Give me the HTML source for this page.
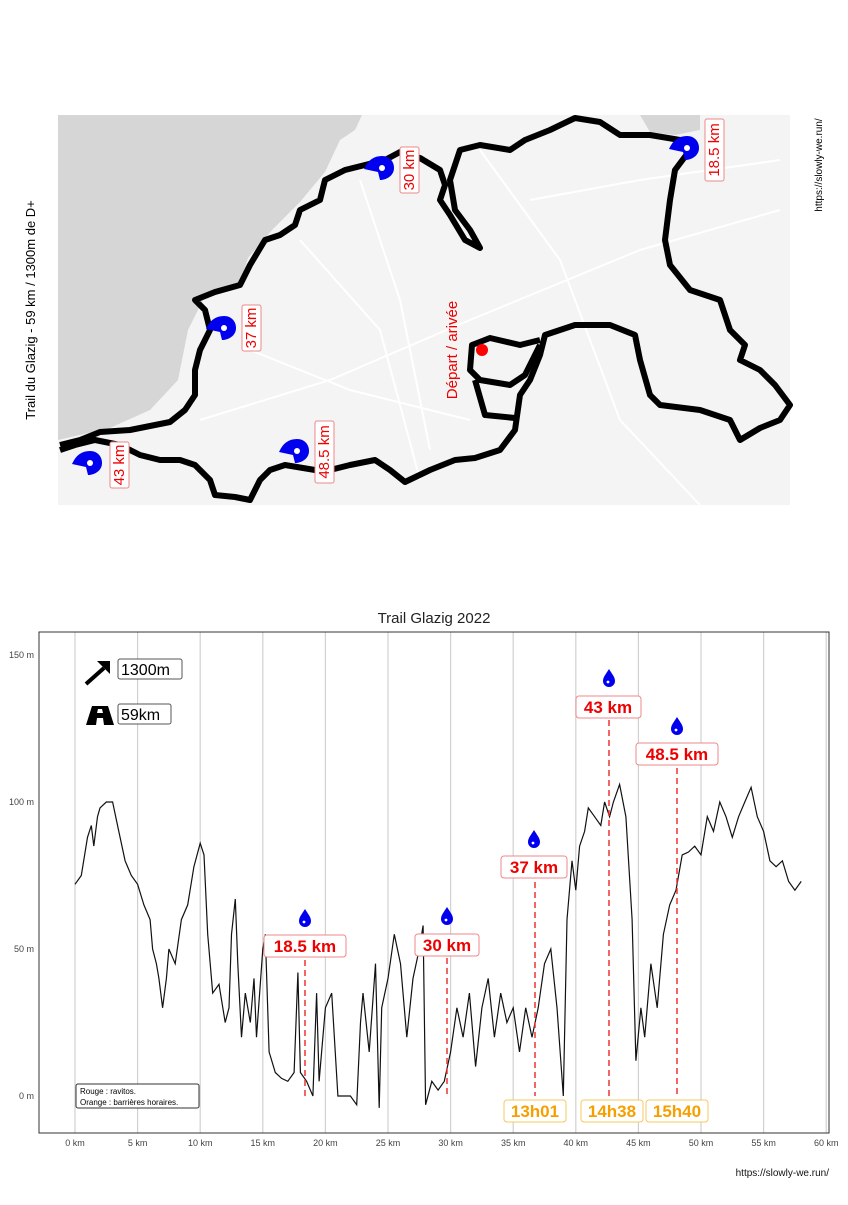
<!DOCTYPE html>
<html><head><meta charset="utf-8"><style>
body{margin:0;background:#fff;font-family:"Liberation Sans",sans-serif;}
</style></head><body>
<svg width="848" height="1200" xmlns="http://www.w3.org/2000/svg" font-family="Liberation Sans, sans-serif">
<defs>
<g id="pin"><path d="M0,0 L-14,-3 C-10,-12 -4,-16 4,-16 C12,-16 16,-10 16,-4 C16,4 8,8 2,8 Z" fill="#0000ee"/><circle cx="4" cy="-4" r="3" fill="#fff"/></g>
<g id="drop"><path d="M0,-9 C3,-4 6,-1 6,3 A6,6 0 0 1 -6,3 C-6,-1 -3,-4 0,-9 Z" fill="#0000ee"/><circle cx="-1" cy="4" r="1.4" fill="#fff"/></g>
</defs>
<!-- MAP -->
<rect x="58" y="115" width="732" height="390" fill="#f4f4f4"/>
<path d="M58,115 L362,115 L355,130 L340,140 L325,172 L300,202 L272,230 L248,258 L238,288 L205,296 L188,330 L178,380 L150,410 L110,428 L58,440 Z" fill="#d6d6d6"/>
<path d="M640,115 L700,115 L700,130 L675,135 L650,132 Z" fill="#d6d6d6"/>
<g stroke="#fff" stroke-width="2" fill="none">
<path d="M300,240 L380,330 L420,480"/><path d="M200,420 L330,380 L470,320 L640,250 L780,210"/><path d="M360,180 L400,300 L430,450"/><path d="M480,150 L560,260 L620,420 L700,505"/><path d="M250,350 L350,390 L470,420"/><path d="M530,200 L640,180 L780,160"/>
</g>
<path fill="none" stroke="#000" stroke-width="6" stroke-linejoin="round" d="M60,445 L80,440 L100,432 L130,430 L155,425 L170,422 L185,410 L195,395 L195,370 L200,350 L210,330 L205,310 L195,300 L215,292 L240,285 L250,265 L265,240 L280,235 L295,225 L300,210 L320,200 L325,180 L345,170 L365,165 L385,160 L400,152 L420,158 L440,170 L445,185 L440,200 L450,215 L465,240 L480,248 L470,230 L455,210 L450,180 L460,150 L480,145 L510,150 L525,140 L550,130 L575,118 L600,122 L620,135 L650,135 L680,140 L690,150 L675,170 L670,200 L665,240 L670,265 L690,290 L720,300 L730,330 L745,345 L740,360 L760,370 L775,385 L790,405 L780,420 L760,428 L740,440 L730,420 L700,410 L660,405 L650,395 L640,360 L635,335 L610,325 L575,325 L545,335 L540,355 L530,380 L520,395 L515,430 L500,450 L475,458 L455,460 L430,470 L405,482 L390,470 L375,460 L350,465 L330,470 L315,470 L285,465 L270,470 L260,480 L250,500 L235,497 L215,495 L210,480 L195,465 L180,460 L160,460 L140,455 L120,445 L95,440 L75,445 L60,450"/>
<path fill="none" stroke="#000" stroke-width="6" stroke-linejoin="round" d="M540,340 L520,345 L490,338 L472,345 L470,370 L480,380 L510,385 L525,375 L540,345 M475,380 L485,415 L515,418"/>
<circle cx="482" cy="350" r="6" fill="#f00"/>
<use href="#pin" x="378" y="172"/><use href="#pin" x="683" y="152"/><use href="#pin" x="220" y="332"/><use href="#pin" x="86" y="467"/><use href="#pin" x="293" y="455"/>
<g fill="#e00" font-size="15">
<g transform="translate(414,170) rotate(-90)"><rect x="-23" y="-14" width="46" height="19" fill="#fff" stroke="#e88" rx="2"/><text text-anchor="middle">30 km</text></g>
<g transform="translate(719,150) rotate(-90)"><rect x="-31" y="-14" width="62" height="19" fill="#fff" stroke="#e88" rx="2"/><text text-anchor="middle">18.5 km</text></g>
<g transform="translate(256,328) rotate(-90)"><rect x="-23" y="-14" width="46" height="19" fill="#fff" stroke="#e88" rx="2"/><text text-anchor="middle">37 km</text></g>
<g transform="translate(124,465) rotate(-90)"><rect x="-23" y="-14" width="46" height="19" fill="#fff" stroke="#e88" rx="2"/><text text-anchor="middle">43 km</text></g>
<g transform="translate(329,452) rotate(-90)"><rect x="-31" y="-14" width="62" height="19" fill="#fff" stroke="#e88" rx="2"/><text text-anchor="middle">48.5 km</text></g>
<text transform="translate(457,350) rotate(-90)" text-anchor="middle">Départ / arivée</text>
</g>
<text transform="translate(35,310) rotate(-90)" text-anchor="middle" font-size="13" fill="#000">Trail du Glazig - 59 km / 1300m de D+</text>
<text transform="translate(822,165) rotate(-90)" text-anchor="middle" font-size="10" fill="#000">https://slowly-we.run/</text>
<!-- CHART -->
<text x="434" y="623" text-anchor="middle" font-size="15" fill="#222">Trail Glazig 2022</text>
<g stroke="#d0d0d0" stroke-width="1.2" id="grid"></g>
<rect x="39" y="632" width="790" height="501" fill="none" stroke="#333" stroke-width="1"/>
<g font-size="9" fill="#444" text-anchor="end">
<text x="34" y="658">150 m</text><text x="34" y="805">100 m</text><text x="34" y="952">50 m</text><text x="34" y="1099">0 m</text>
</g>
<g font-size="9" fill="#444" text-anchor="middle" id="xl"></g>
<polyline id="prof" fill="none" stroke="#111" stroke-width="1.2" points=""/>
<g stroke="#e33" stroke-width="1.5" stroke-dasharray="6,4">
<line x1="305" y1="960" x2="305" y2="1096"/><line x1="447" y1="958" x2="447" y2="1096"/><line x1="535" y1="882" x2="535" y2="1096"/><line x1="609" y1="720" x2="609" y2="1096"/><line x1="677" y1="768" x2="677" y2="1096"/>
</g>
<use href="#drop" x="305" y="918"/><use href="#drop" x="447" y="916"/><use href="#drop" x="534" y="839"/><use href="#drop" x="609" y="678"/><use href="#drop" x="677" y="726"/>
<g font-size="17" font-weight="bold" fill="#e00" text-anchor="middle">
<rect x="264" y="935" width="82" height="22" fill="#fff" stroke="#e88" rx="3"/><text x="305" y="952">18.5 km</text>
<rect x="415" y="934" width="64" height="22" fill="#fff" stroke="#e88" rx="3"/><text x="447" y="951">30 km</text>
<rect x="501" y="856" width="66" height="22" fill="#fff" stroke="#e88" rx="3"/><text x="534" y="873">37 km</text>
<rect x="576" y="696" width="65" height="22" fill="#fff" stroke="#e88" rx="3"/><text x="608" y="713">43 km</text>
<rect x="636" y="743" width="82" height="22" fill="#fff" stroke="#e88" rx="3"/><text x="677" y="760">48.5 km</text>
</g>
<g font-size="17" font-weight="bold" fill="#f5a000" text-anchor="middle">
<rect x="504" y="1100" width="62" height="22" fill="#fff" stroke="#f8c860" rx="3"/><text x="535" y="1117">13h01</text>
<rect x="581" y="1100" width="62" height="22" fill="#fff" stroke="#f8c860" rx="3"/><text x="612" y="1117">14h38</text>
<rect x="646" y="1100" width="62" height="22" fill="#fff" stroke="#f8c860" rx="3"/><text x="677" y="1117">15h40</text>
</g>
<path d="M86,684 L104,668" stroke="#000" stroke-width="4"/><path d="M97,661 L110,661 L110,674 Z" fill="#000"/>
<rect x="118" y="659" width="64" height="20" fill="#fff" stroke="#555" rx="2"/><text x="121" y="675" font-size="16">1300m</text>
<path d="M86,725 L92,706 L108,706 L114,725 L104,725 L103,718 L97,718 L96,725 Z M97,713 L103,713 L102,709 L98,709 Z" fill="#000"/>
<rect x="118" y="704" width="53" height="20" fill="#fff" stroke="#555" rx="2"/><text x="121" y="720" font-size="16">59km</text>
<rect x="76" y="1084" width="123" height="24" fill="#fff" stroke="#333" rx="2"/>
<text x="80" y="1094" font-size="8">Rouge : ravitos.</text><text x="80" y="1105" font-size="8">Orange : barrières horaires.</text>
<text x="829" y="1176" text-anchor="end" font-size="10" fill="#111">https://slowly-we.run/</text>
</svg>
<script>
var X=k=>75+k*12.52, Y=m=>1096-m*2.94;
var g=document.getElementById('grid'),xl=document.getElementById('xl'),ns='http://www.w3.org/2000/svg';
for(var k=0;k<=60;k+=5){var l=document.createElementNS(ns,'line');l.setAttribute('x1',X(k));l.setAttribute('x2',X(k));l.setAttribute('y1',632);l.setAttribute('y2',1133);g.appendChild(l);
var t=document.createElementNS(ns,'text');t.setAttribute('x',X(k));t.setAttribute('y',1146);t.textContent=k+' km';xl.appendChild(t);}
var d=[0,72,0.5,75,1,88,1.3,92,1.5,85,1.8,95,2,98,2.5,100,3,100,3.5,90,4,80,4.5,75,5,72,5.5,65,6,60,6.2,50,6.5,45,6.7,40,7,30,7.3,40,7.5,50,8,45,8.5,60,9,65,9.5,78,10,86,10.3,82,10.6,55,10.8,45,11,35,11.5,38,12,25,12.3,30,12.5,55,12.8,67,13,45,13.3,20,13.6,35,14,25,14.3,40,14.5,20,15,50,15.2,55,15.5,15,16,8,16.5,6,17,5,17.5,8,17.8,42,18,8,18.5,5,19,0,19.3,35,19.5,5,20,30,20.5,35,21,0,21.5,0,22,0,22.5,-3,22.8,25,23,35,23.5,15,24,45,24.3,-4,24.5,30,25,40,25.5,55,26,45,26.5,20,27,40,27.5,50,27.8,58,28,-3,28.5,5,29,2,29.5,5,30,15,30.5,30,31,20,31.5,35,32,10,32.5,30,33,40,33.5,20,34,35,34.5,25,35,30,35.5,15,36,30,36.5,20,37,30,37.5,45,38,50,38.5,30,39,0,39.3,60,39.7,80,40,70,40.3,85,40.7,90,41,98,41.5,95,42,92,42.3,100,42.7,95,43,100,43.5,106,44,95,44.5,60,44.8,12,45.2,30,45.5,20,46,45,46.5,30,47,55,47.5,65,48,70,48.5,82,49,83,49.5,85,50,82,50.5,95,51,90,51.5,100,52,95,52.5,88,53,95,53.5,100,54,105,54.5,95,55,90,55.5,80,56,78,56.5,80,57,73,57.5,70,58,73];
var p=[];for(var i=0;i<d.length;i+=2)p.push(X(d[i]).toFixed(1)+','+Y(d[i+1]).toFixed(1));
document.getElementById('prof').setAttribute('points',p.join(' '));
</script>
</body></html>
